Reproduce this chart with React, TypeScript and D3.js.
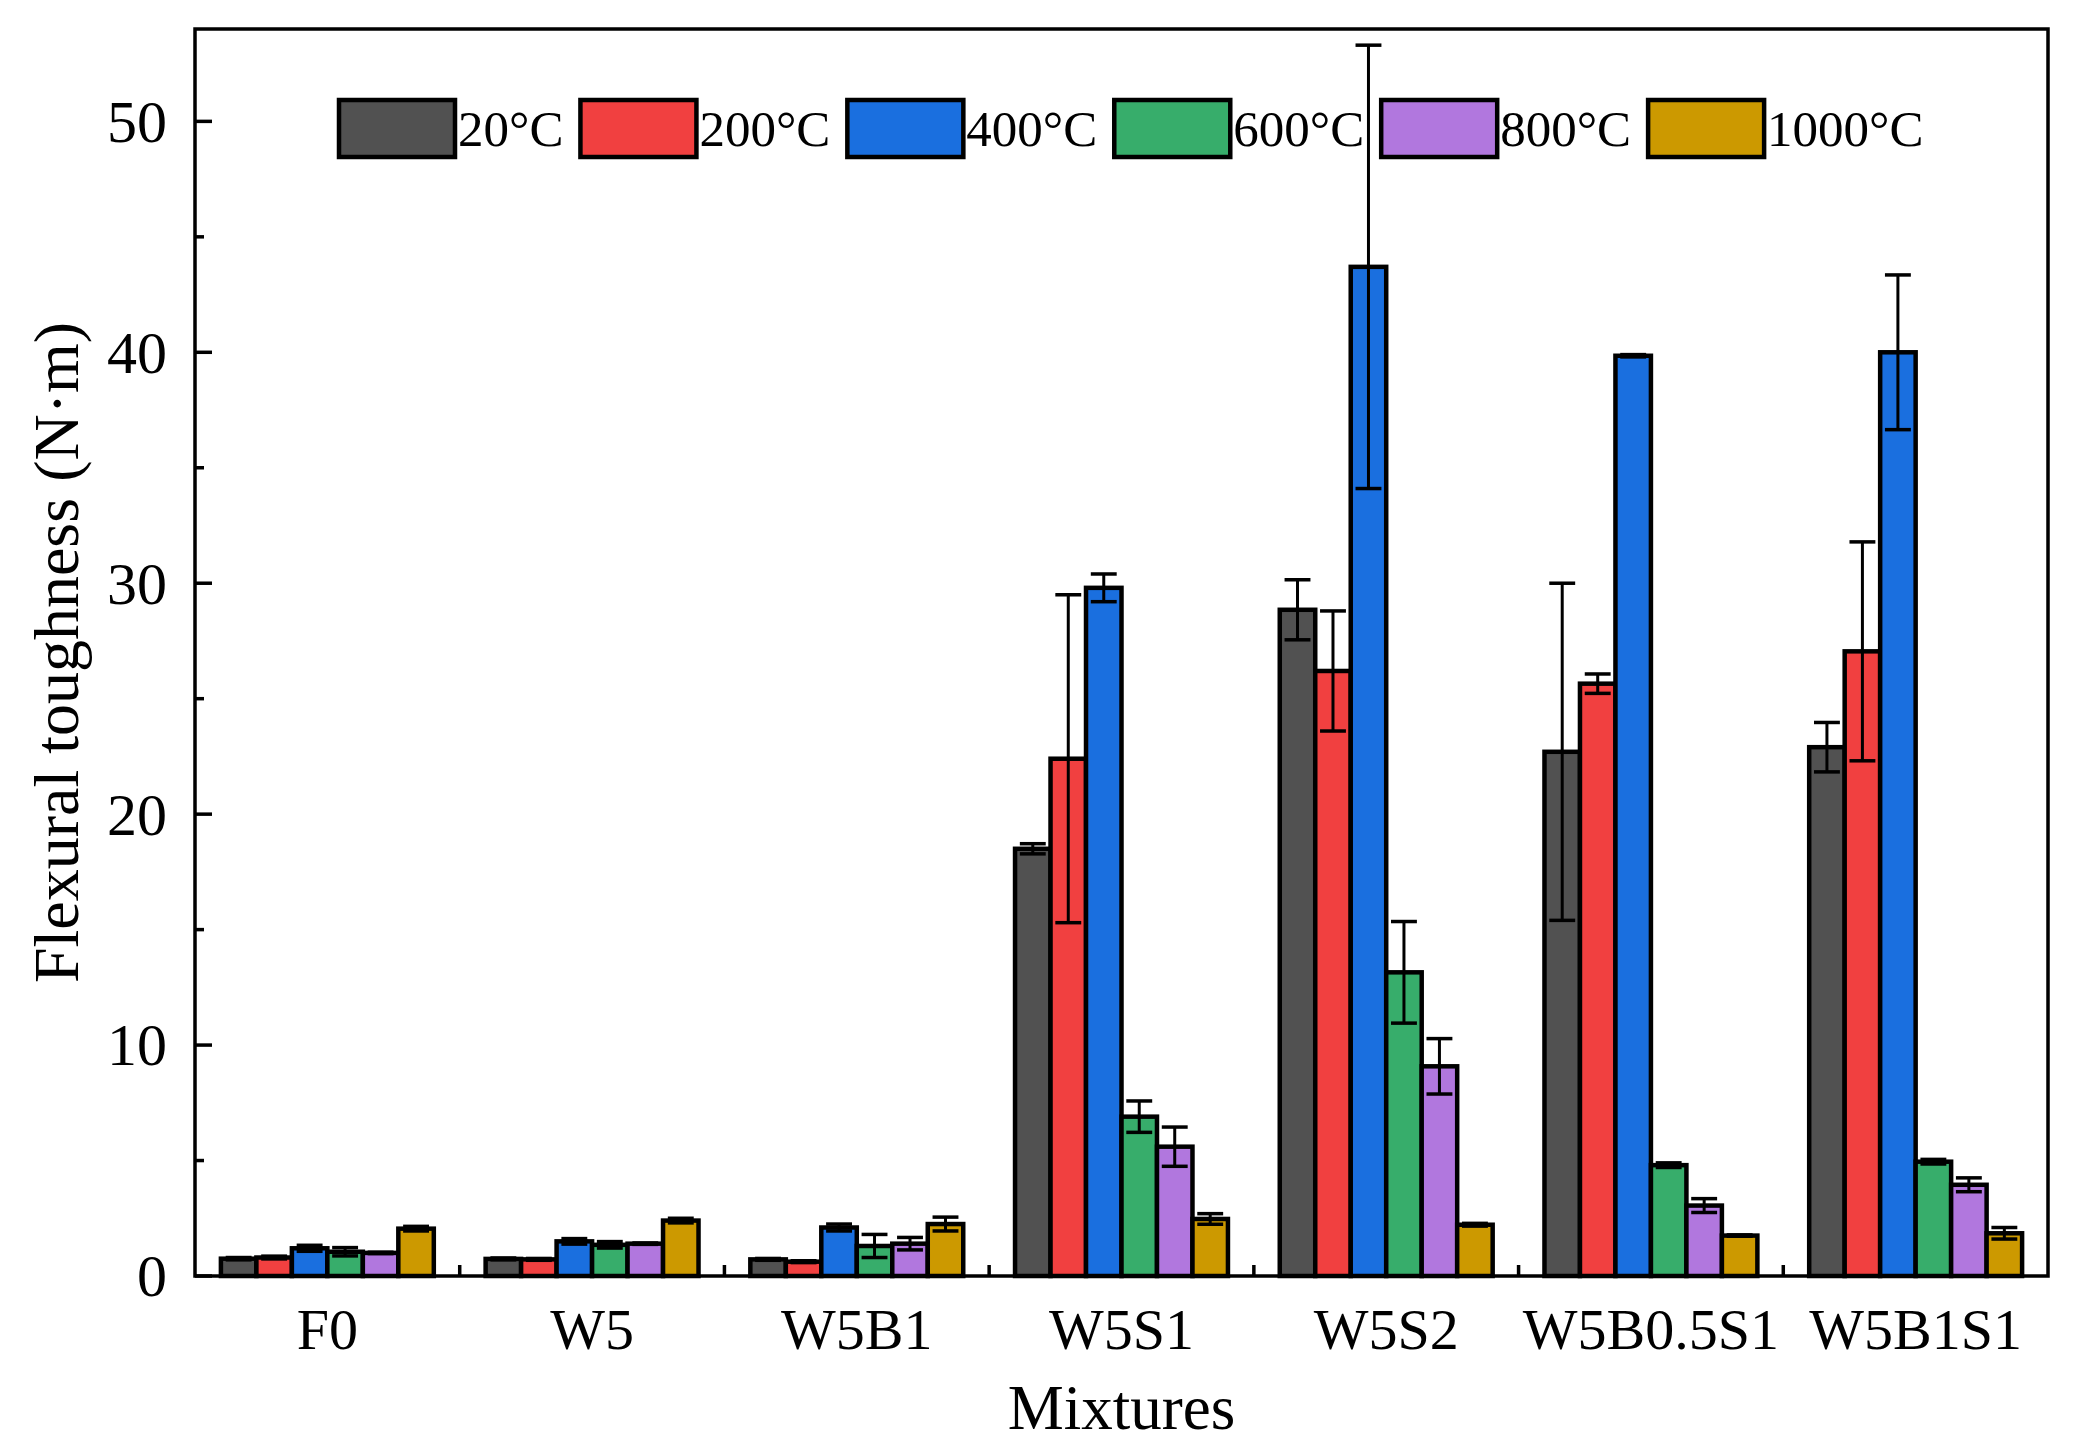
import { useEffect, useRef } from 'react';
import * as d3 from 'd3';

const categories = ['F0', 'W5', 'W5B1', 'W5S1', 'W5S2', 'W5B0.5S1', 'W5B1S1'];
const temps = ['20°C', '200°C', '400°C', '600°C', '800°C', '1000°C'];

const t20 = [0.75, 0.74, 0.72, 18.5, 28.85, 22.7, 22.9];
const t200 = [0.8, 0.72, 0.62, 22.4, 26.2, 25.65, 27.05];
const t400 = [1.2, 1.5, 2.1, 29.8, 43.7, 39.85, 40.0];
const t600 = [1.05, 1.35, 1.3, 6.9, 13.15, 4.8, 4.95];
const t800 = [1.0, 1.4, 1.4, 5.6, 9.08, 3.05, 3.95];
const t1000 = [2.05, 2.4, 2.25, 2.47, 2.22, 1.75, 1.85];

const err20 = [0.05, 0.04, 0.04, 0.22, 1.3, 7.3, 1.07];
const err200 = [0.06, 0.04, 0.04, 7.1, 2.6, 0.42, 4.74];
const err400 = [0.13, 0.12, 0.15, 0.6, 9.6, 0.05, 3.35];
const err600 = [0.18, 0.14, 0.5, 0.68, 2.2, 0.1, 0.1];
const err800 = [0.03, 0.03, 0.27, 0.85, 1.2, 0.3, 0.3];
const err1000 = [0.1, 0.1, 0.3, 0.23, 0.06, 0.03, 0.25];

const yTicks = [0, 10, 20, 30, 40, 50];
const yMinorTicks = [5, 15, 25, 35, 45];

const values = [t20, t200, t400, t600, t800, t1000];
const errors = [err20, err200, err400, err600, err800, err1000];

// Origin default palette
const colors = ['#515151', '#F14040', '#1A6FDF', '#37AD6B', '#B177DE', '#CC9900'];

const W = 2073;
const H = 1444;
const font = '"Liberation Serif", "Times New Roman", serif';

const App = () => {
  const ref = useRef<SVGSVGElement | null>(null);

  useEffect(() => {
    if (!ref.current) return;
    const svg = d3.select(ref.current);
    svg.selectAll('*').remove();

    const left = 195, right = 2048, top = 29, bottom = 1276;

    const x = d3.scaleBand<string>().domain(categories).range([left, right]).padding(0);
    const xi = d3.scaleBand<string>().domain(temps).range([0, x.bandwidth()])
      .paddingInner(0).paddingOuter(0.73);
    const y = d3.scaleLinear().domain([0, 54]).range([bottom, top]);

    // bars
    const bars = svg.append('g');
    temps.forEach((t, s) => {
      bars.append('g')
        .selectAll('rect')
        .data(categories)
        .enter()
        .append('rect')
        .attr('x', c => (x(c) as number) + (xi(t) as number))
        .attr('y', (_c, i) => y(values[s][i]))
        .attr('width', xi.bandwidth())
        .attr('height', (_c, i) => y(0) - y(values[s][i]))
        .attr('fill', colors[s])
        .attr('stroke', '#000')
        .attr('stroke-width', 4.5);
    });

    // error bars
    const capW = xi.bandwidth() * 0.73;
    const eb = svg.append('g').attr('stroke', '#000').attr('stroke-width', 3).attr('fill', 'none');
    temps.forEach((t, s) => {
      categories.forEach((c, i) => {
        const cx = (x(c) as number) + (xi(t) as number) + xi.bandwidth() / 2;
        const hi = y(values[s][i] + errors[s][i]);
        const lo = y(values[s][i] - errors[s][i]);
        eb.append('line').attr('x1', cx).attr('x2', cx).attr('y1', hi).attr('y2', lo);
        eb.append('line').attr('x1', cx - capW / 2).attr('x2', cx + capW / 2).attr('y1', hi).attr('y2', hi)
          .attr('stroke-width', 3.5);
        eb.append('line').attr('x1', cx - capW / 2).attr('x2', cx + capW / 2).attr('y1', lo).attr('y2', lo)
          .attr('stroke-width', 3.5);
      });
    });

    // frame
    svg.append('rect')
      .attr('x', left).attr('y', top)
      .attr('width', right - left).attr('height', bottom - top)
      .attr('fill', 'none').attr('stroke', '#000').attr('stroke-width', 3.5);

    // y ticks (inward)
    const ax = svg.append('g').attr('stroke', '#000').attr('stroke-width', 3.5);
    yTicks.forEach(v => {
      ax.append('line').attr('x1', left).attr('x2', left + 17).attr('y1', y(v)).attr('y2', y(v));
    });
    yMinorTicks.forEach(v => {
      ax.append('line').attr('x1', left).attr('x2', left + 9).attr('y1', y(v)).attr('y2', y(v));
    });
    // x ticks between groups
    categories.slice(1).forEach(c => {
      const xv = x(c) as number;
      ax.append('line').attr('x1', xv).attr('x2', xv).attr('y1', bottom).attr('y2', bottom - 11);
    });

    svg.append('g')
      .selectAll('text')
      .data(yTicks)
      .enter()
      .append('text')
      .attr('x', left - 28)
      .attr('y', d => y(d))
      .attr('dy', '0.34em')
      .attr('text-anchor', 'end')
      .style('font-family', font)
      .style('font-size', '60px')
      .text(d => d);

    svg.append('g')
      .selectAll('text')
      .data(categories)
      .enter()
      .append('text')
      .attr('x', d => (x(d) as number) + x.bandwidth() / 2)
      .attr('y', 1349)
      .attr('text-anchor', 'middle')
      .style('font-family', font)
      .style('font-size', '58px')
      .text(d => d);

    svg.append('text')
      .attr('x', (left + right) / 2)
      .attr('y', 1429)
      .attr('text-anchor', 'middle')
      .style('font-family', font)
      .style('font-size', '63px')
      .text('Mixtures');

    svg.append('text')
      .attr('transform', `translate(78, ${(top + bottom) / 2}) rotate(-90)`)
      .attr('text-anchor', 'middle')
      .style('font-family', font)
      .style('font-size', '64px')
      .text('Flexural toughness (N·m)');

    // legend
    const lg = svg.append('g');
    let lx = 339;
    temps.forEach((t, s) => {
      lg.append('rect')
        .attr('x', lx).attr('y', 100)
        .attr('width', 116).attr('height', 57)
        .attr('fill', colors[s])
        .attr('stroke', '#000').attr('stroke-width', 4.5);
      const txt = lg.append('text')
        .attr('x', lx + 119).attr('y', 146)
        .style('font-family', font)
        .style('font-size', '51px')
        .text(t);
      const tw = (txt.node() as SVGTextElement).getComputedTextLength();
      lx += 119 + tw + 17;
    });
  }, []);

  return (
    <svg ref={ref} width={W} height={H}
      style={{ position: 'absolute', left: 0, top: 0, background: '#fff' }} />
  );
};

export default App;
